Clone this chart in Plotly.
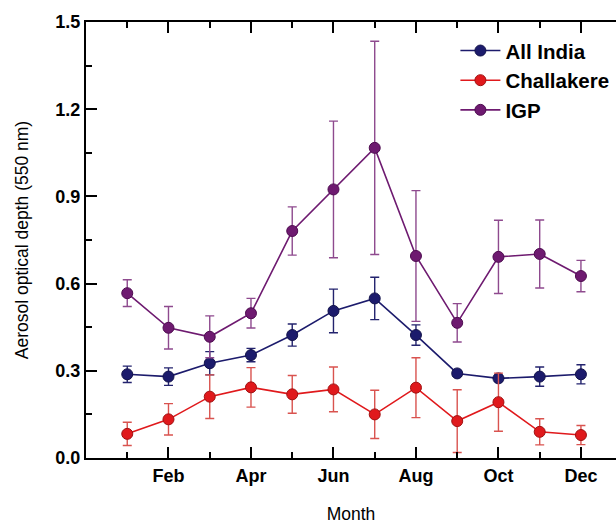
import plotly.graph_objects as go

months = ["Jan", "Feb", "Mar", "Apr", "May", "Jun", "Jul", "Aug", "Sep", "Oct", "Nov", "Dec"]
month_num = list(range(1, 13))

all_india = [0.288, 0.280, 0.326, 0.354, 0.423, 0.506, 0.549, 0.423, 0.291, 0.274, 0.280, 0.288]
all_india_err = [0.028, 0.030, 0.040, 0.023, 0.038, 0.075, 0.073, 0.035, 0.010, 0.010, 0.033, 0.033]

challakere = [0.083, 0.133, 0.211, 0.243, 0.219, 0.236, 0.150, 0.242, 0.127, 0.192, 0.090, 0.079]
challakere_err = [0.040, 0.054, 0.075, 0.068, 0.065, 0.077, 0.083, 0.103, 0.108, 0.100, 0.045, 0.033]

igp = [0.567, 0.448, 0.417, 0.498, 0.781, 0.924, 1.067, 0.695, 0.465, 0.692, 0.702, 0.626]
igp_err = [0.046, 0.073, 0.072, 0.051, 0.083, 0.235, 0.367, 0.225, 0.066, 0.126, 0.117, 0.054]

series = [
    ("All India", all_india, all_india_err, "#1c1b6c", "#23236e", "#12124a"),
    ("Challakere", challakere, challakere_err, "#e0191c", "#d9534f", "#a01010"),
    ("IGP", igp, igp_err, "#6e1a70", "#8e4a8e", "#4e0c50"),
]

FONT = "Arial, 'Liberation Sans', sans-serif"

fig = go.Figure()
for name, vals, errs, col, ecol, edge in series:
    fig.add_trace(go.Scatter(
        x=month_num, y=vals, name=name, mode="lines+markers",
        line=dict(color=col, width=1.6),
        marker=dict(size=11, color=col, line=dict(color=edge, width=1)),
        error_y=dict(type="data", array=errs, visible=True, color=ecol, thickness=1.4, width=4.5),
    ))

fig.update_layout(
    width=616, height=524,
    margin=dict(l=86, r=0, t=22, b=66),
    paper_bgcolor="white", plot_bgcolor="white",
    font=dict(family=FONT, color="black"),
    showlegend=True,
    legend=dict(
        x=0.697, y=0.98, xanchor="left", yanchor="top",
        bgcolor="rgba(0,0,0,0)", borderwidth=0,
        font=dict(family=FONT, size=20.5, color="black", weight="bold"),
        tracegroupgap=0, itemwidth=40,
    ),
    xaxis=dict(
        range=[0, 12.85], showgrid=False, zeroline=False,
        showline=True, linecolor="black", linewidth=2, mirror="ticks",
        ticks="inside", ticklen=11, tickwidth=2, tickcolor="black",
        tickvals=month_num[1::2], ticktext=months[1::2],
        tickfont=dict(family=FONT, size=18, color="black", weight="bold"),
        minor=dict(tickvals=month_num[0::2], ticks="inside", ticklen=6, tickwidth=2, tickcolor="black"),
        title=dict(text="Month", font=dict(family=FONT, size=17.5, color="black"), standoff=24),
    ),
    yaxis=dict(
        range=[0, 1.5], showgrid=False, zeroline=False,
        showline=True, linecolor="black", linewidth=2, mirror=False,
        ticks="inside", ticklen=11, tickwidth=2, tickcolor="black",
        tick0=0, dtick=0.3, tickformat=".1f",
        tickfont=dict(family=FONT, size=18, color="black", weight="bold"),
        minor=dict(dtick=0.15, tick0=0, ticks="inside", ticklen=6, tickwidth=2, tickcolor="black"),
        title=dict(text="Aerosol optical depth (550 nm)", font=dict(family=FONT, size=17.5, color="black"), standoff=22),
    ),
    yaxis2=dict(
        overlaying="y", side="right", range=[0, 1.5], showgrid=False, zeroline=False,
        showline=False, showticklabels=False,
        ticks="inside", ticklen=11, tickwidth=2, tickcolor="black",
        tick0=0, dtick=0.3,
        minor=dict(dtick=0.15, tick0=0, ticks="inside", ticklen=6, tickwidth=2, tickcolor="black"),
    ),
)

fig.write_html("out.html")
